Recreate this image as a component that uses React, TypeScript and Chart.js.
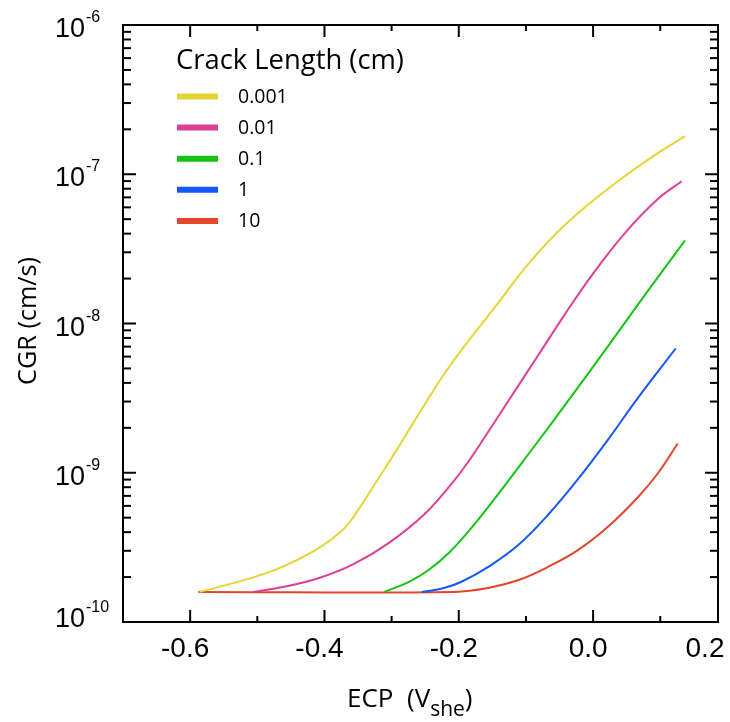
import React, { useEffect, useRef } from "react";
import { Chart, registerables } from "chart.js";

Chart.register(...registerables);

// ---- axis ranges ----
const X_MIN = -0.7;
const X_MAX = 0.186;
const Y_MIN = 1e-10;
const Y_MAX = 1e-6;

// ---- tick labels ----
const X_TICK_VALUES = [-0.6, -0.4, -0.2, 0.0, 0.2];
const X_TICK_LABELS = ["-0.6", "-0.4", "-0.2", "0.0", "0.2"];
const X_MINOR_VALUES = [-0.5, -0.3, -0.1, 0.1];
const Y_TICK_EXPONENTS = [-10, -9, -8, -7, -6];

// ---- titles / legend ----
const X_TITLE_MAIN = "ECP  (V";
const X_TITLE_SUB = "she";
const X_TITLE_END = ")";
const Y_TITLE = "CGR (cm/s)";
const LEGEND_TITLE = "Crack Length (cm)";
const SERIES_LABELS = ["0.001", "0.01", "0.1", "1", "10"];
const SERIES_COLORS = ["#E3D634", "#DE3F97", "#14C414", "#1457FF", "#E2452B"];

// ---- data: ECP (V_she) and CGR (cm/s) ----
const ECP_0001 = [-0.586, -0.511, -0.462, -0.413, -0.373, -0.353, -0.324, -0.292, -0.274, -0.215, -0.141, -0.097, -0.052, -0.003, 0.047, 0.096, 0.137];
const CGR_0001 = [1.59e-10, 1.96e-10, 2.35e-10, 3.04e-10, 4.14e-10, 5.36e-10, 8.53e-10, 1.43e-9, 1.94e-9, 5.07e-9, 1.38e-8, 2.49e-8, 4.14e-8, 6.49e-8, 9.7e-8, 1.38e-7, 1.8e-7];

const ECP_001 = [-0.507, -0.46, -0.408, -0.356, -0.304, -0.252, -0.212, -0.185, -0.16, -0.126, -0.082, -0.045, -0.003, 0.047, 0.096, 0.132];
const CGR_001 = [1.59e-10, 1.72e-10, 1.97e-10, 2.45e-10, 3.39e-10, 5.23e-10, 8.3e-10, 1.2e-9, 1.77e-9, 3.04e-9, 6.1e-9, 1.1e-8, 2.07e-8, 4.02e-8, 6.8e-8, 8.98e-8];

const ECP_01 = [-0.311, -0.274, -0.245, -0.215, -0.185, -0.156, -0.097, -0.037, 0.022, 0.081, 0.137];
const CGR_01 = [1.59e-10, 1.86e-10, 2.23e-10, 2.9e-10, 4.08e-10, 5.91e-10, 1.32e-9, 3.04e-9, 7.02e-9, 1.64e-8, 3.61e-8];

const ECP_1 = [-0.255, -0.222, -0.196, -0.156, -0.111, -0.067, -0.022, 0.022, 0.066, 0.123];
const CGR_1 = [1.59e-10, 1.69e-10, 1.86e-10, 2.34e-10, 3.29e-10, 5.23e-10, 9.12e-10, 1.66e-9, 3.14e-9, 6.8e-9];

const ECP_10 = [-0.588, -0.206, -0.156, -0.111, -0.067, -0.022, 0.022, 0.066, 0.096, 0.126];
const CGR_10 = [1.59e-10, 1.59e-10, 1.69e-10, 1.91e-10, 2.34e-10, 3.04e-10, 4.34e-10, 6.8e-10, 9.85e-10, 1.57e-9];

const SERIES_X = [ECP_0001, ECP_001, ECP_01, ECP_1, ECP_10];
const SERIES_Y = [CGR_0001, CGR_001, CGR_01, CGR_1, CGR_10];

const ARIAL = '"Liberation Sans", Arial, sans-serif';
const SANS = '"Open Sans", "Noto Sans", sans-serif';

function fitFont(ctx: CanvasRenderingContext2D, text: string, family: string, width: number) {
  ctx.font = `100px ${family}`;
  const w = ctx.measureText(text).width;
  const size = (100 * width) / w;
  ctx.font = `${size.toFixed(2)}px ${family}`;
}

const decorPlugin = {
  id: "decor",
  afterDraw(chart: any) {
    const { ctx, chartArea: a, scales } = chart;
    const xs = scales.x;
    const ys = scales.y;
    ctx.save();
    ctx.strokeStyle = "#000";
    ctx.fillStyle = "#000";
    ctx.lineWidth = 2;
    ctx.lineCap = "butt";
    const seg = (x1: number, y1: number, x2: number, y2: number) => {
      ctx.beginPath();
      ctx.moveTo(x1, y1);
      ctx.lineTo(x2, y2);
      ctx.stroke();
    };
    // frame
    ctx.strokeRect(a.left, a.top, a.right - a.left, a.bottom - a.top);

    // x ticks (bottom + top, inward)
    X_TICK_VALUES.forEach((v) => {
      if (v > X_MAX) return;
      const px = xs.getPixelForValue(v);
      seg(px, a.bottom, px, a.bottom - 12);
      seg(px, a.top, px, a.top + 12);
    });
    X_MINOR_VALUES.forEach((v) => {
      const px = xs.getPixelForValue(v);
      seg(px, a.bottom, px, a.bottom - 6);
      seg(px, a.top, px, a.top + 6);
    });

    // y ticks (left + right, inward)
    Y_TICK_EXPONENTS.forEach((e) => {
      const py = ys.getPixelForValue(Math.pow(10, e));
      seg(a.left, py, a.left + 13, py);
      seg(a.right, py, a.right - 13, py);
      if (e < -6) {
        for (let m = 2; m <= 9; m++) {
          const pm = ys.getPixelForValue(m * Math.pow(10, e));
          seg(a.left, pm, a.left + 8, pm);
          seg(a.right, pm, a.right - 8, pm);
        }
      }
    });

    // x tick labels
    ctx.font = `28px ${ARIAL}`;
    ctx.textAlign = "center";
    ctx.textBaseline = "alphabetic";
    X_TICK_VALUES.forEach((v, i) => {
      const px = Math.min(xs.getPixelForValue(v), a.right - 8) - 5;
      ctx.fillText(X_TICK_LABELS[i], px, a.bottom + 35);
    });

    // y tick labels 10^e
    ctx.textAlign = "left";
    Y_TICK_EXPONENTS.forEach((e) => {
      const py = ys.getPixelForValue(Math.pow(10, e));
      const base = Math.min(py + 12, a.bottom + 5);
      ctx.font = `27px ${ARIAL}`;
      ctx.fillText("10", 55, base);
      const w = ctx.measureText("10").width;
      ctx.font = `16px ${ARIAL}`;
      ctx.fillText("-" + Math.abs(e), 55 + w + 1, base - 15);
    });

    // y title
    ctx.save();
    ctx.translate(29, 321);
    ctx.rotate(-Math.PI / 2);
    fitFont(ctx, Y_TITLE, SANS, 128);
    ctx.textAlign = "center";
    ctx.textBaseline = "middle";
    ctx.fillText(Y_TITLE, 0, 0);
    ctx.restore();

    // x title with subscript
    ctx.textAlign = "left";
    ctx.textBaseline = "alphabetic";
    let tx = 347;
    ctx.font = `26px ${SANS}`;
    ctx.fillText(X_TITLE_MAIN, tx, 707);
    tx += ctx.measureText(X_TITLE_MAIN).width;
    ctx.font = `21px ${SANS}`;
    ctx.fillText(X_TITLE_SUB, tx, 716);
    tx += ctx.measureText(X_TITLE_SUB).width;
    ctx.font = `26px ${SANS}`;
    ctx.fillText(X_TITLE_END, tx, 707);

    // legend
    fitFont(ctx, LEGEND_TITLE, SANS, 228);
    ctx.fillText(LEGEND_TITLE, 176, 69);
    SERIES_LABELS.forEach((lab, i) => {
      const y = 96.5 + i * 31.1;
      ctx.strokeStyle = SERIES_COLORS[i];
      ctx.lineWidth = 6;
      seg(177, y, 218, y);
      ctx.font = `19.5px ${SANS}`;
      ctx.fillStyle = "#000";
      ctx.fillText(lab, 238, y + 6);
    });
    ctx.restore();
  },
};

export default function App() {
  const ref = useRef<HTMLCanvasElement | null>(null);
  useEffect(() => {
    if (!ref.current) return;
    const datasets = SERIES_LABELS.map((lab, i) => ({
      label: lab,
      data: SERIES_X[i].map((x, j) => ({ x, y: SERIES_Y[i][j] })),
      borderColor: SERIES_COLORS[i],
      backgroundColor: SERIES_COLORS[i],
      borderWidth: 2,
      pointRadius: 0,
      fill: false,
      tension: 0.4,
    }));
    const chart = new Chart(ref.current, {
      type: "line",
      data: { datasets },
      options: {
        animation: false,
        responsive: false,
        events: [],
        layout: { padding: { left: 123, top: 25, right: 12, bottom: 100 } },
        plugins: { legend: { display: false }, tooltip: { enabled: false } },
        scales: {
          x: { type: "linear", min: X_MIN, max: X_MAX, display: false },
          y: { type: "logarithmic", min: Y_MIN, max: Y_MAX, display: false },
        },
      },
      plugins: [decorPlugin],
    });
    return () => chart.destroy();
  }, []);
  return (
    <div style={{ position: "absolute", left: 0, top: 0, width: 730, height: 722, background: "#fff" }}>
      <canvas ref={ref} width={730} height={722} />
    </div>
  );
}
